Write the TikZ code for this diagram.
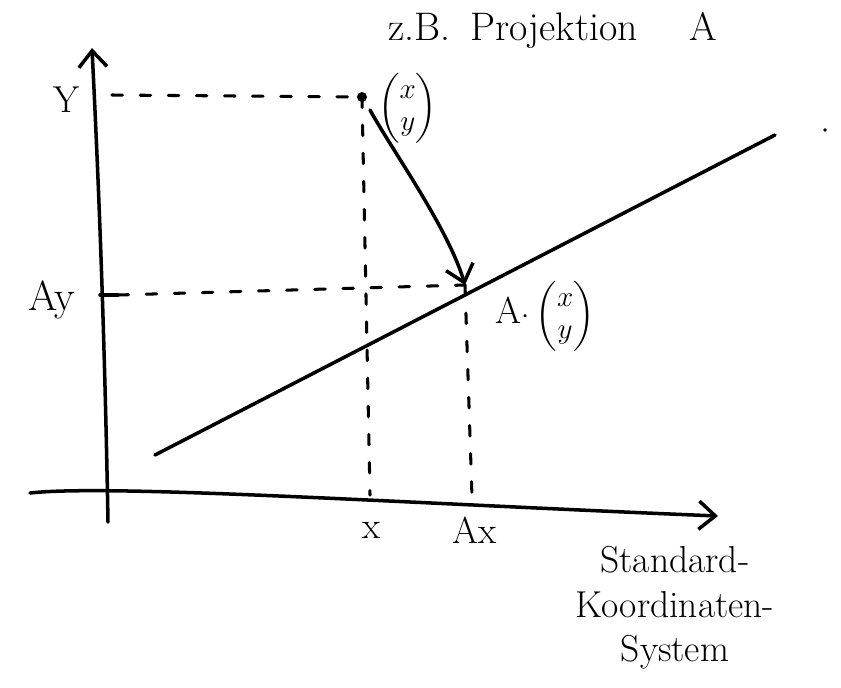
\documentclass[tikz,border=0pt]{standalone}
\usepackage{amsmath}
\usetikzlibrary{arrows.meta}
\begin{document}
\begin{tikzpicture}[x=0.03cm,y=-0.03cm,
  stroke/.style={line width=3pt, line cap=round, line join=round},
  dsh/.style={line width=2.6pt, line cap=round, dash pattern=on 9pt off 15pt},
  lbl/.style={font=\fontsize{32}{38}\selectfont, inner sep=0pt},
  vec/.style={font=\fontsize{24}{28}\selectfont, inner sep=0pt},
  tip/.style={-{Straight Barb[length=14pt,width=24pt,line width=3pt]}}]
\useasboundingbox (0,0) rectangle (841,687);
% axes
\coordinate (ybot) at (108,522);
\coordinate (ytop) at (92,48);
\coordinate (xl) at (30,493);
\coordinate (xr) at (718,516);
\draw[stroke,tip] (ybot) .. controls (104,300) and (97,150) .. (ytop);
\draw[stroke,tip] (xl) .. controls (110,484) and (400,503) .. (xr);
% image line
\coordinate (l1) at (155,455);
\coordinate (l2) at (775,135);
\draw[stroke] (l1) -- (l2);
% points
\coordinate (P) at (362,97);
\coordinate (AP) at (465,285);
\fill (P) circle (5);
\fill (825,130) circle (1.8);
% dashed helpers
\coordinate (ymark) at (112,95);
\coordinate (xfoot) at (370,495);
\coordinate (aytick) at (118,295);
\coordinate (aytick0) at (100,295);
\coordinate (axfoot) at (472,497);
\draw[dsh] (ymark) -- (P);
\draw[dsh] (P) -- (xfoot);
\draw[dsh] (aytick) -- (AP);
\draw[dsh] (AP) -- (axfoot);
\draw[stroke] (aytick0) -- (aytick);
% mapping arrow
\coordinate (ps) at (370,110);
\draw[stroke,tip] (ps) .. controls (392,150) and (448,228) .. (AP);
% labels
\node[lbl,anchor=west,font=\fontsize{34}{40}\selectfont] (title) at (388,30) {z.B.\hspace{0.5em}Projektion\hspace{1.3em}A};
\node[vec,anchor=west] (vx) at (378,108) {$\begin{pmatrix}x\\y\end{pmatrix}$};
\node[lbl,anchor=west] (avx) at (495,316) {A$\cdot$\,{\fontsize{24}{28}\selectfont$\begin{pmatrix}x\\y\end{pmatrix}$}};
\node[lbl] (ly) at (66,100) {Y};
\node[lbl,font=\fontsize{36}{42}\selectfont] (lay) at (52,300) {Ay};
\node[lbl] (lx) at (372,530) {x};
\node[lbl] (lax) at (475,530) {Ax};
\node[lbl,align=center] (std) at (675,608) {Standard-\\Koordinaten-\\System};
\end{tikzpicture}
\end{document}
